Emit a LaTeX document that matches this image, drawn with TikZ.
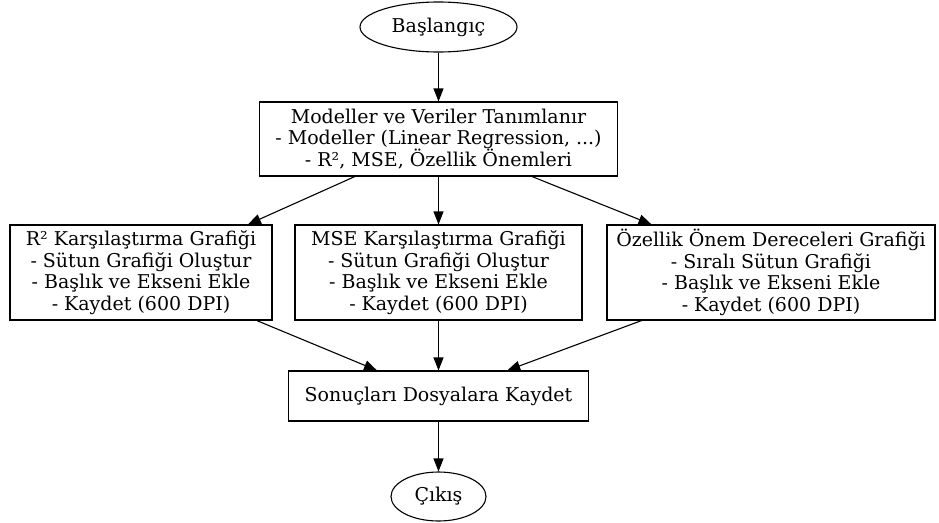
\documentclass[tikz,border=0pt]{standalone}
\usepackage{fontspec}
\setmainfont{DejaVu Serif}
\usetikzlibrary{shapes.geometric,arrows.meta}
\begin{document}
\begin{tikzpicture}[x=1pt,y=-1pt,
  every node/.style={font=\fontsize{19}{21.7}\selectfont, align=center, inner sep=0pt},
  boxnode/.style={draw, line width=1.1pt, rectangle},
  ovalnode/.style={draw, line width=1.1pt, ellipse},
  edge/.style={draw, line width=1.1pt, -{Triangle[length=13pt,width=10pt]}}]
\useasboundingbox (0,0) rectangle (939,522);
\node[ovalnode, minimum width=157, minimum height=50] (start) at (438.5,27) {Başlangıç};
\node[boxnode, minimum width=358, minimum height=74] (models) at (438.5,139) {Modeller ve Veriler Tanımlanır\\- Modeller (Linear Regression, ...)\\- R², MSE, Özellik Önemleri};
\node[boxnode, minimum width=262, minimum height=95] (r2) at (141,272.5) {R² Karşılaştırma Grafiği\\- Sütun Grafiği Oluştur\\- Başlık ve Ekseni Ekle\\- Kaydet (600 DPI)};
\node[boxnode, minimum width=287, minimum height=95] (mse) at (438.5,272.5) {MSE Karşılaştırma Grafiği\\- Sütun Grafiği Oluştur\\- Başlık ve Ekseni Ekle\\- Kaydet (600 DPI)};
\node[boxnode, minimum width=328, minimum height=95] (feat) at (771,272.5) {Özellik Önem Dereceleri Grafiği\\- Sıralı Sütun Grafiği\\- Başlık ve Ekseni Ekle\\- Kaydet (600 DPI)};
\node[boxnode, minimum width=300, minimum height=50] (save) at (438.5,396) {Sonuçları Dosyalara Kaydet};
\node[ovalnode, minimum width=95, minimum height=49] (end) at (438.5,496.5) {Çıkış};
\draw[edge] (start) -- (models);
\draw[edge] (models) -- (r2);
\draw[edge] (models) -- (mse);
\draw[edge] (models) -- (feat);
\draw[edge] (r2) -- (save);
\draw[edge] (mse) -- (save);
\draw[edge] (feat) -- (save);
\draw[edge] (save) -- (end);
\end{tikzpicture}
\end{document}
